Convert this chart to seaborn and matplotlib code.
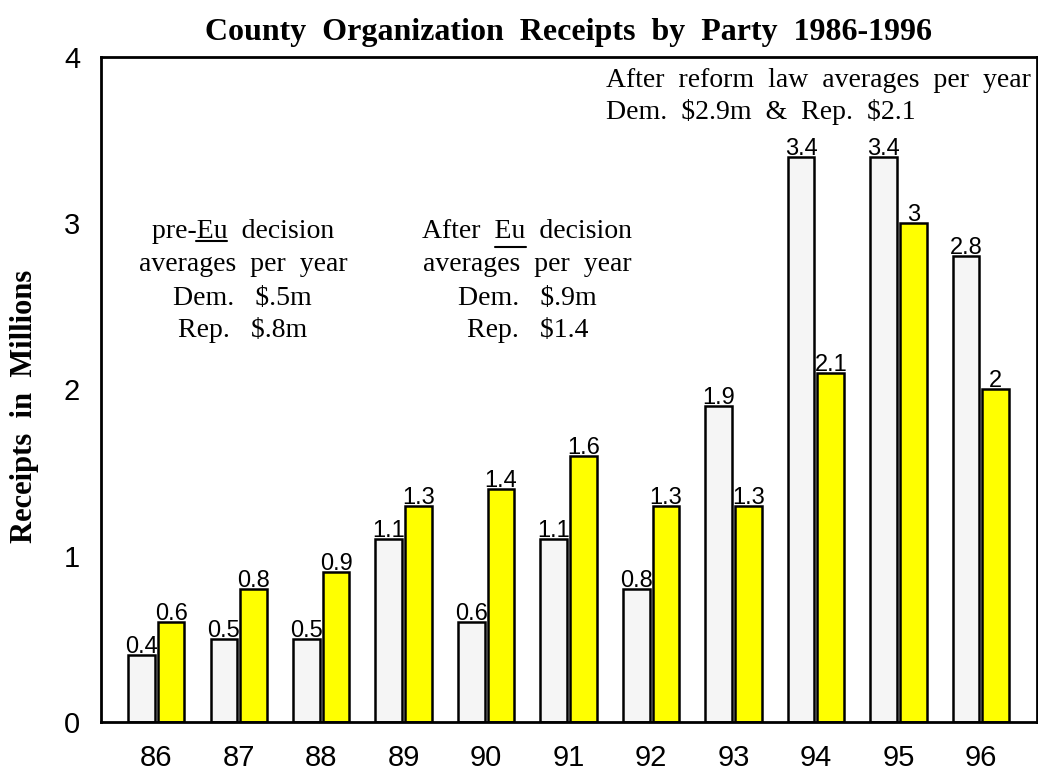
import seaborn as sns
import matplotlib.pyplot as plt
import pandas as pd

# data
years = ['86', '87', '88', '89', '90', '91', '92', '93', '94', '95', '96']
dem = [0.4, 0.5, 0.5, 1.1, 0.6, 1.1, 0.8, 1.9, 3.4, 3.4, 2.8]
rep = [0.6, 0.8, 0.9, 1.3, 1.4, 1.6, 1.3, 1.3, 2.1, 3.0, 2.0]
parties = ['Dem', 'Rep']

df = pd.DataFrame({
    'year': years * 2,
    'party': ['Dem'] * len(years) + ['Rep'] * len(years),
    'receipts': dem + rep,
})

sns.set_style('white')
plt.rcParams['font.family'] = ['Liberation Sans', 'DejaVu Sans']
plt.rcParams['text.color'] = 'black'
plt.rcParams['axes.labelcolor'] = 'black'
plt.rcParams['xtick.color'] = 'black'
plt.rcParams['ytick.color'] = 'black'

fig = plt.figure(figsize=(10.38, 7.71), dpi=100)
ax = fig.add_axes([0.0973, 0.0636, 0.9017, 0.8625])

sns.barplot(data=df, x='year', y='receipts', hue='party', hue_order=parties,
            palette={'Dem': '#f5f5f5', 'Rep': '#ffff00'}, saturation=1,
            width=0.72, gap=0.1, edgecolor='black', linewidth=1.8,
            legend=False, ax=ax)

for c in ax.containers:
    ax.bar_label(c, fmt='%g', padding=-2, fontsize=17, color='black')

ax.set_ylim(0, 4)
ax.set_xlim(-0.67, 10.68)
ax.set_yticks([0, 1, 2, 3, 4])
ax.set_yticks([0.5, 1.5, 2.5, 3.5], minor=True)
ax.tick_params(axis='y', which='major', direction='in', length=12, width=1.5, labelsize=21, pad=15)
ax.tick_params(axis='y', which='minor', direction='in', length=7, width=1.5)
ax.tick_params(axis='x', length=0, labelsize=21, pad=16)
for s in ax.spines.values():
    s.set_linewidth(2)
    s.set_color('black')

serif = 'Liberation Serif'
ax.set_title('County  Organization  Receipts  by  Party  1986-1996',
             fontfamily=serif, fontweight='bold', fontsize=23, pad=12)
ax.set_ylabel('Receipts  in  Millions', fontfamily=serif, fontweight='bold', fontsize=22)
ax.yaxis.set_label_coords(-0.066, 0.475)
ax.set_xlabel('')

# annotation blocks
note_kw = dict(fontfamily=serif, fontsize=20, ha='center', va='center')
block1 = ['pre-Eu  decision', 'averages  per  year', r'Dem.   \$.5m', r'Rep.   \$.8m']
block2 = ['After  Eu  decision', 'averages  per  year', r'Dem.   \$.9m', r'Rep.   \$1.4']
line_y = [2.95, 2.75, 2.55, 2.36]
underlined = []
for txt, y in zip(block1, line_y):
    t = ax.text(1.05, y, txt, **note_kw)
    if 'Eu' in txt:
        underlined.append(t)
for txt, y in zip(block2, line_y):
    t = ax.text(4.5, y, txt, **note_kw)
    if 'Eu' in txt:
        underlined.append(t)

ax.text(5.45, 3.86, 'After  reform  law  averages  per  year', fontfamily=serif, fontsize=20, ha='left', va='center')
ax.text(5.45, 3.67, r'Dem.  \$2.9m  &  Rep.  \$2.1', fontfamily=serif, fontsize=20, ha='left', va='center')

# underline "Eu" (mathtext has no \underline)
fig.canvas.draw()
r = fig.canvas.get_renderer()
inv = ax.transData.inverted()
for t in underlined:
    s = t.get_text()
    prop = t.get_fontproperties()
    bb = t.get_window_extent(r)
    i = s.index('Eu')
    w0 = r.get_text_width_height_descent(s[:i], prop, ismath=False)[0] if i else 0
    w1 = r.get_text_width_height_descent(s[:i + 2], prop, ismath=False)[0]
    d = r.get_text_width_height_descent(s, prop, ismath=False)[2]
    ybase = bb.y0 + d - 3
    (xa, ya), (xb, _) = inv.transform([(bb.x0 + w0, ybase), (bb.x0 + w1, ybase)])
    ax.plot([xa, xb], [ya, ya], color='black', lw=1.5)

fig.savefig('out.png', dpi=100)
